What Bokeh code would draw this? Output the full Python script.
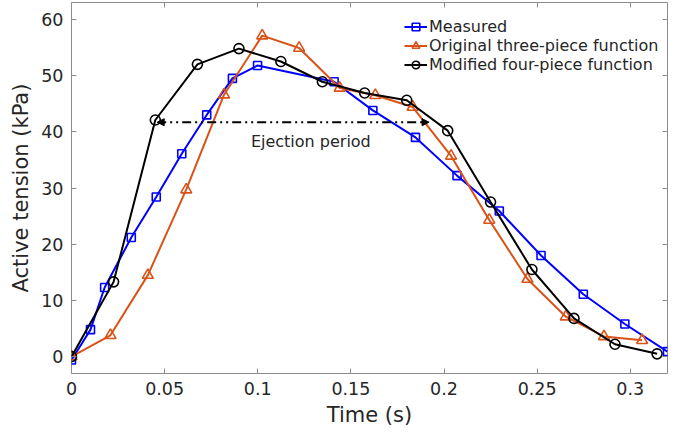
from bokeh.plotting import figure
from bokeh.models import (Range1d, FixedTicker, LinearAxis, Arrow, NormalHead,
                          Label, CustomJSTickFormatter)
from bokeh.embed import file_html
from bokeh.resources import INLINE

# ---- data ----
t_meas = [0, 0.0102, 0.0178, 0.0321, 0.0455, 0.0592, 0.0726, 0.0864, 0.0999,
          0.141, 0.1618, 0.1847, 0.207, 0.2297, 0.2521, 0.2748, 0.2971, 0.32]
v_meas = [-0.6, 4.8, 12.3, 21.2, 28.4, 36.1, 43.0, 49.5, 51.8,
          48.9, 43.8, 39.0, 32.2, 25.9, 18.0, 11.1, 5.8, 0.9]

t_orig = [0, 0.0209, 0.041, 0.0616, 0.0819, 0.1024, 0.1222, 0.144, 0.1631,
          0.1832, 0.2038, 0.2243, 0.2448, 0.2654, 0.2859, 0.3064]
v_orig = [0, 3.8, 14.5, 29.7, 46.6, 57.1, 54.9, 47.8, 46.5,
          44.4, 35.7, 24.3, 13.8, 7.1, 3.6, 2.9]

t_mod = [0, 0.0226, 0.045, 0.0676, 0.0899, 0.1124, 0.1347, 0.1574, 0.18,
         0.202, 0.225, 0.2472, 0.2698, 0.2918, 0.3144]
v_mod = [0, 13.3, 42.1, 52.0, 54.8, 52.5, 48.9, 46.9, 45.6,
         40.2, 27.5, 15.5, 6.8, 2.2, 0.5]

x_ticks = [0, 0.05, 0.1, 0.15, 0.2, 0.25, 0.3]
y_ticks = [0, 10, 20, 30, 40, 50, 60]

ejection_start, ejection_end, ejection_level = 0.046, 0.192, 41.7
ejection_text = "Ejection period"

FONT = "DejaVu Sans"
AX_GRAY = "#8c8c8c"
TXT = "#262626"

W, H = 672, 429
BORDER_TOP, BORDER_BOTTOM = 2, 55

p = figure(width=W, height=H, output_backend="svg", toolbar_location=None,
           x_range=Range1d(0, 0.32), y_range=Range1d(-3, 63),
           min_border_left=71, min_border_right=5, min_border_top=BORDER_TOP,
           min_border_bottom=BORDER_BOTTOM, x_axis_label="Time (s)",
           y_axis_label="Active tension (kPa)")
p.background_fill_color = "white"
p.border_fill_color = "white"
p.xgrid.grid_line_color = None
p.ygrid.grid_line_color = None
p.outline_line_color = AX_GRAY
p.outline_line_width = 1

fmt = CustomJSTickFormatter(code="return String(tick);")
blank = CustomJSTickFormatter(code="return '';")

for ax, ticks in ((p.xaxis[0], x_ticks), (p.yaxis[0], y_ticks)):
    ax.ticker = FixedTicker(ticks=ticks)
    ax.axis_line_color = None
    ax.major_tick_in = 5
    ax.major_tick_out = 0
    ax.major_tick_line_color = AX_GRAY
    ax.minor_tick_line_color = None
    ax.major_label_text_font = FONT
    ax.major_label_text_font_size = "17.5px"
    ax.major_label_text_color = TXT
    ax.axis_label_text_font = FONT
    ax.axis_label_text_font_size = "21px"
    ax.axis_label_text_font_style = "normal"
    ax.axis_label_text_color = TXT
    ax.major_label_standoff = 8
    ax.axis_label_standoff = 5
p.xaxis[0].formatter = fmt

for loc, ticks in (("above", x_ticks), ("right", y_ticks)):
    ax = LinearAxis(ticker=FixedTicker(ticks=ticks), axis_line_color=None,
                    formatter=blank,
                    major_tick_in=5, major_tick_out=0,
                    major_tick_line_color=AX_GRAY, minor_tick_line_color=None,
                    major_label_standoff=0, axis_label_standoff=0)
    p.add_layout(ax, loc)

# series
p.line(t_meas, v_meas, line_color="#0000ff", line_width=2, legend_label="Measured")
p.scatter(t_meas, v_meas, marker="square", size=8, line_color="#0000ff",
          line_width=1.6, fill_alpha=0, legend_label="Measured")

p.line(t_orig, v_orig, line_color="#d95319", line_width=2,
       legend_label="Original three-piece function")
p.scatter(t_orig, v_orig, marker="triangle", size=11, line_color="#d95319",
          line_width=1.6, fill_alpha=0, legend_label="Original three-piece function")

p.line(t_mod, v_mod, line_color="#000000", line_width=2,
       legend_label="Modified four-piece function")
p.scatter(t_mod, v_mod, marker="circle", size=10, line_color="#000000",
          line_width=1.6, fill_alpha=0, legend_label="Modified four-piece function")

# ejection period arrow
arrow = Arrow(x_start=ejection_start, y_start=ejection_level,
              x_end=ejection_end, y_end=ejection_level,
              line_color="black", line_width=2, line_dash="9 4 2 4 2 4",
              start=NormalHead(size=7, fill_color="black", line_color="black"),
              end=NormalHead(size=7, fill_color="black", line_color="black"))
p.add_layout(arrow)
p.add_layout(Label(x=0.1285, y=38.3, text=ejection_text, text_align="center",
                   text_baseline="middle", text_font=FONT, text_font_size="16px",
                   text_color=TXT))

frame_h = H - BORDER_TOP - BORDER_BOTTOM
lg = p.legend[0]
lg.location = (333, frame_h - 73)
lg.margin = 0
lg.padding = 0
lg.spacing = 0
lg.glyph_width = 23
lg.glyph_height = 19
lg.label_height = 19
lg.label_standoff = 2
lg.label_text_font = FONT
lg.label_text_font_size = "16px"
lg.label_text_color = TXT
lg.border_line_color = None
lg.background_fill_alpha = 0

open("out.html", "w").write(file_html(p, INLINE))
